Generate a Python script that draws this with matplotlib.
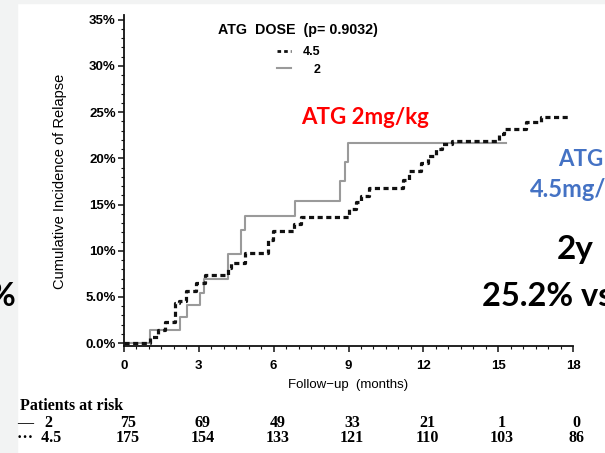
import matplotlib
matplotlib.use("Agg")
import matplotlib.pyplot as plt
from matplotlib.lines import Line2D
from matplotlib.patches import Rectangle
from matplotlib.ticker import MultipleLocator, FixedLocator

# curve data (months, cumulative incidence in %)
t_2mg = [0, 1.04, 2.24, 2.53, 3.05, 3.2, 4.17, 4.7, 4.87, 6.84, 8.64, 8.84, 8.97, 15.3]
ci_2mg = [0, 1.4, 2.8, 4.1, 5.4, 6.9, 9.6, 12.3, 13.8, 15.4, 17.5, 19.6, 21.7, 21.7]

t_45mg = [0, 1.04, 1.36, 1.64, 2.04, 2.2, 2.5, 2.9, 3.24, 4.16, 4.3, 4.84, 5.76, 5.97,
          6.8, 7.1, 9.0, 9.3, 9.5, 9.84, 11.2, 11.44, 11.9, 12.2, 12.5, 12.76, 13.16,
          15.04, 15.24, 16.1, 16.7, 17.84]
ci_45mg = [0, 0.7, 1.4, 2.3, 4.3, 4.6, 5.7, 6.5, 7.4, 8.1, 8.7, 9.8, 11.2, 12.1,
           12.9, 13.7, 14.5, 15.3, 15.9, 16.8, 17.7, 18.6, 19.5, 20.3, 21.0, 21.5, 21.9,
           22.6, 23.2, 23.9, 24.5, 24.5]

risk_times = [0, 3, 6, 9, 12, 15, 18]
risk_2mg = [75, 69, 49, 33, 21, 1, 0]
risk_45mg = [175, 154, 133, 121, 110, 103, 86]

y_ticks = [0, 5, 10, 15, 20, 25, 30, 35]
y_labels = ['0.0%', '5.0%', '10%', '15%', '20%', '25%', '30%', '35%']
x_ticks = [0, 3, 6, 9, 12, 15, 18]

W, H = 605, 453
fig = plt.figure(figsize=(W / 100, H / 100), dpi=100)
fig.patch.set_facecolor('white')

# slide background strips
fig.add_artist(Rectangle((0, 0), 17 / W, 1, transform=fig.transFigure,
                         color='#f2f3f3', zorder=0))
fig.add_artist(Rectangle((0, 1 - 3 / H), 1, 3 / H, transform=fig.transFigure,
                         color='#f2f3f3', zorder=0))

ax = fig.add_axes([124 / W, 1 - 346 / H, (573 - 124) / W, (346 - 15) / H])
ax.set_facecolor('none')

ax.step(t_2mg, ci_2mg, where='post', color='#9a9a9a', lw=1.5, zorder=2)
ax.step(t_45mg, ci_45mg, where='post', color='#111111', lw=2.3,
        linestyle=(0, (1.6, 1.1)), zorder=3)

ax.set_xlim(0, 18)
ax.set_ylim(-0.3, 35.5)
ax.xaxis.set_major_locator(FixedLocator(x_ticks))
ax.xaxis.set_minor_locator(MultipleLocator(0.5))
ax.yaxis.set_major_locator(FixedLocator(y_ticks))
ax.yaxis.set_minor_locator(MultipleLocator(1))
ax.set_yticklabels(y_labels)

for s in ['top', 'right']:
    ax.spines[s].set_visible(False)
for s in ['left', 'bottom']:
    ax.spines[s].set_linewidth(1.3)
    ax.spines[s].set_color('#111111')

lab_font = dict(family='Liberation Sans', weight='bold', size=9.5)
ax.tick_params(axis='both', which='major', length=4, width=1.1, color='#111111')
ax.tick_params(axis='both', which='minor', length=2, width=0.8, color='#111111')
ax.tick_params(axis='x', which='major', pad=6)
ax.tick_params(axis='y', which='major', pad=2)
for lab in ax.get_xticklabels() + ax.get_yticklabels():
    lab.set_fontproperties(matplotlib.font_manager.FontProperties(**lab_font))

fig.text(348 / W, 1 - 385 / H, 'Follow\u2212up  (months)', ha='center', va='center',
         family='Liberation Sans', size=9.5)
fig.text(60 / W, 1 - 181 / H, 'Cumulative Incidence of Relapse', rotation=90,
         ha='center', va='center', family='Liberation Sans', size=10.5)

# legend drawn by hand
fig.text(218 / W, 1 - 30 / H, 'ATG  DOSE  (p= 0.9032)', ha='left', va='center',
         family='Liberation Sans', weight='bold', size=10.3)
fig.add_artist(Line2D([277 / W, 291 / W], [1 - 51 / H] * 2, transform=fig.transFigure,
                      color='#111111', lw=2.0, linestyle=(0, (1.3, 1.1))))
fig.add_artist(Line2D([277 / W, 291 / W], [1 - 68 / H] * 2, transform=fig.transFigure,
                      color='#9a9a9a', lw=1.5))
fig.text(320 / W, 1 - 52 / H, '4.5', ha='right', va='center',
         family='Liberation Sans', weight='bold', size=9)
fig.text(320 / W, 1 - 70 / H, '2', ha='right', va='center',
         family='Liberation Sans', weight='bold', size=9)

# slide annotations
callout = dict(family=['Lato', 'DejaVu Sans'], weight='bold')
fig.text(301 / W, 1 - 117 / H, 'ATG 2mg/kg', ha='left', va='center', color='#ff0000',
         size=16, **callout)
fig.text(558 / W, 1 - 160 / H, 'ATG', ha='left', va='center', color='#4472c4',
         size=16, **callout)
fig.text(530 / W, 1 - 190 / H, '4.5mg/kg', ha='left', va='center', color='#4472c4',
         size=17, **callout)
fig.text(557 / W, 1 - 250 / H, '2y', ha='left', va='center', color='black',
         size=24, **callout)
fig.text(482 / W, 1 - 297 / H, '25.2% vs 21.7%', ha='left', va='center', color='black',
         size=23.5, **callout)
fig.text(15 / W, 1 - 297 / H, '%', ha='right', va='center', color='black',
         size=23.5, **callout)

# patients at risk table
tab_font = dict(family='Liberation Serif', weight='bold', size=11.5)
fig.text(20 / W, 1 - 406 / H, 'Patients at risk', ha='left', va='center', **tab_font)
fig.text(17 / W, 1 - 423 / H, '\u2014   2', ha='left', va='center', **tab_font)
fig.text(17 / W, 1 - 438 / H, '\u00b7\u00b7\u00b7  4.5', ha='left', va='center', **tab_font)
xt = ax.get_xaxis_transform()
for t, n2, n45 in zip(risk_times, risk_2mg, risk_45mg):
    ax.text(t + 0.15, -(423 - 346) / (346 - 15), str(n2), transform=xt,
            ha='center', va='center', clip_on=False, **tab_font)
    ax.text(t + 0.15, -(438 - 346) / (346 - 15), str(n45), transform=xt,
            ha='center', va='center', clip_on=False, **tab_font)

fig.savefig('out.png', dpi=100)
